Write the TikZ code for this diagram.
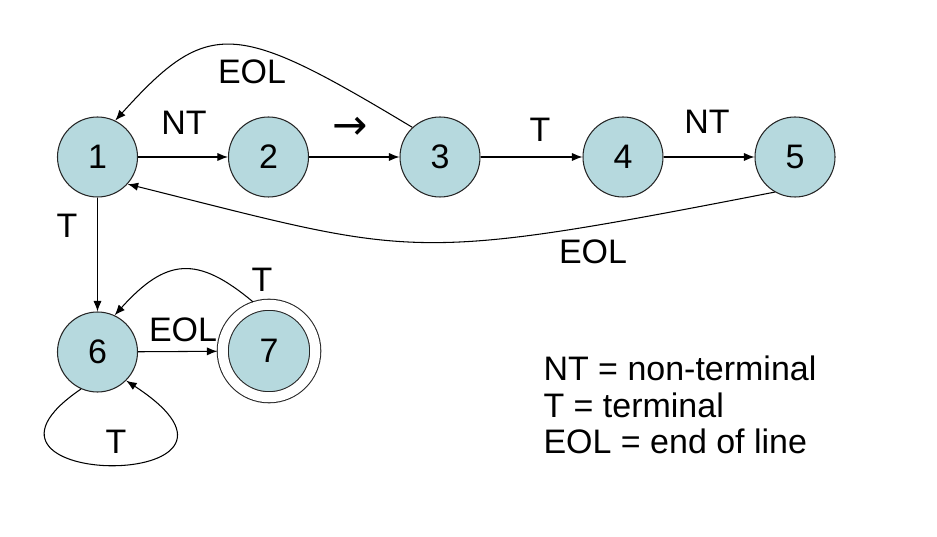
\documentclass[tikz,border=0pt]{standalone}
\usepackage{fontspec}
\setmainfont{Liberation Sans}
\newfontfamily\arrowfont{DejaVu Sans}
\usetikzlibrary{arrows.meta}
\definecolor{statefill}{RGB}{182,217,222}

\begin{document}
\begin{tikzpicture}[x=0.03cm, y=0.03cm, line width=0.9pt, >={Latex[length=9pt,width=7pt]},
		state/.style={circle, draw=black!85, fill=statefill, minimum size=2.4cm, inner sep=0pt, font=\fontsize{29}{34}\selectfont},
		accepting/.style={double=white, double distance=0.3cm, minimum size=2.775cm, outer sep=0.16cm},
		lbl/.style={font=\fontsize{29}{31}\selectfont, inner sep=0pt}]
				\useasboundingbox (0,0) rectangle (937,536);
				
				% States
				\node[state] (n1) at (97.5,379) {1};
				\node[state] (n2) at (268.5,379) {2};
				\node[state] (n3) at (440,379) {3};
				\node[state] (n4) at (623,379) {4};
				\node[state] (n5) at (795,379) {5};
				\node[state] (n6) at (97.5,184) {6};
				\node[state, accepting] (n7) at (269,185) {7};
				
				% Straight transitions
				\draw[->] (n1) -- (n2);
				\draw[->] (n2) -- (n3);
				\draw[->] (n3) -- (n4);
				\draw[->] (n4) -- (n5);
				\draw[->] (n1) -- (n6);
				\draw[->] (n6) -- (n7);
				
				% Curved transitions
				\draw[->] (n3.133) .. controls +(149:206) and +(48:140) .. (n1.64);
				\draw[->] (n5.240) .. controls +(191:377) and +(346:299) .. (n1.318);
				\draw[->] (n7.108) .. controls +(140:73) and +(48:77) .. (n6.65);
				\draw[->] (n6.246) .. controls +(-150,-102) and +(172,-112) .. (n6.315);
				
				% Labels
				\node[lbl] (t13) at (252,464) {EOL};
				\node[lbl] (t12) at (184,413) {NT};
				\node[lbl, font=\fontsize{36}{40}\selectfont] (t23) at (350,408) {\arrowfont →};
				\node[lbl] (t34) at (540,406) {T};
				\node[lbl] (t45) at (707,414) {NT};
				\node[lbl] (t51) at (593,284) {EOL};
				\node[lbl] (t16) at (67,310) {T};
				\node[lbl] (t76) at (262,256) {T};
				\node[lbl] (t67) at (183,206) {EOL};
				\node[lbl] (t66) at (116,94) {T};
				
				% Legend
				\node[lbl, anchor=west, align=left] (legend) at (543,131) {NT = non-terminal\\T = terminal\\EOL = end of line};
			\end{tikzpicture}
\end{document}
